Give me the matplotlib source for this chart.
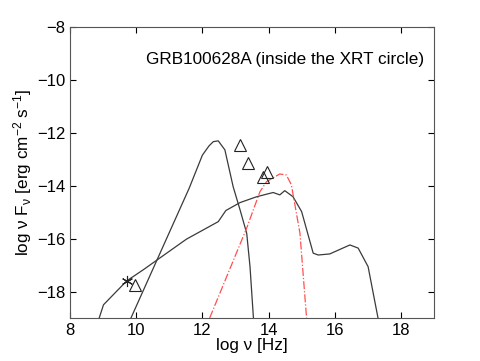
import numpy as np
import matplotlib
matplotlib.use("Agg")
import matplotlib.pyplot as plt

plt.rcParams['font.family'] = ['Liberation Sans', 'DejaVu Sans']
plt.rcParams['mathtext.default'] = 'regular'

# steep component (peaks near 10^12.4 Hz)
steep_x = [9.84, 11.6, 12.0, 12.2, 12.33, 12.48, 12.68, 12.93, 13.14, 13.34, 13.44, 13.54, 13.56]
steep_y = [-19.0, -14.1, -12.85, -12.5, -12.34, -12.31, -12.65, -14.04, -14.92, -15.8, -17.06, -18.94, -19.2]

# broad component
broad_x = [8.88, 9.01, 9.71, 10.21, 10.92, 11.52, 12.48, 12.71, 13.14, 13.64, 14.14,
           14.34, 14.49, 14.74, 15.0, 15.35, 15.5, 15.85, 16.46, 16.71, 17.01, 17.31]
broad_y = [-19.0, -18.5, -17.6, -17.18, -16.55, -16.02, -15.36, -14.94, -14.64, -14.42, -14.26,
           -14.35, -14.19, -14.42, -14.98, -16.55, -16.62, -16.58, -16.24, -16.36, -17.06, -19.0]

# red dash-dot component
red_x = [12.22, 13.34, 13.74, 13.94, 14.34, 14.54, 14.69, 14.95, 15.15]
red_y = [-19.0, -15.6, -14.23, -13.85, -13.56, -13.6, -13.97, -15.8, -19.0]

# data points
tri_x = [13.14, 13.39, 13.94, 13.82, 9.96]
tri_y = [-12.45, -13.13, -13.47, -13.68, -17.75]
star_x = [9.71]
star_y = [-17.6]

fig = plt.figure(figsize=(4.8, 3.61), dpi=100)
ax = fig.add_axes([0.146, 0.119, 0.758, 0.807])

line_col = '#3a3a3a'
ax.plot(steep_x, steep_y, color=line_col, lw=0.9)
ax.plot(broad_x, broad_y, color=line_col, lw=0.9)
ax.plot(red_x, red_y, color='#ff5050', lw=0.9, ls='-.')
ax.plot(tri_x, tri_y, ls='none', marker='^', ms=9, mfc='none', mec='#222222', mew=0.8)
ax.plot(star_x, star_y, ls='none', marker=(6, 2, 0), ms=8, mec='#222222', mew=0.8)

ax.set_xlim(8, 19)
ax.set_ylim(-19, -8)
ax.set_xticks(np.arange(8, 19, 2))
ax.set_yticks(np.arange(-18, -7, 2))
ax.tick_params(direction='in', top=True, right=True, length=4, labelsize=12, colors='black')
for s in ax.spines.values():
    s.set_color('#555555')
    s.set_linewidth(0.8)

ax.text(18.7, -9.22, 'GRB100628A (inside the XRT circle)', ha='right', va='center', fontsize=12.3)
ax.set_xlabel('log ν [Hz]', fontsize=12.3, labelpad=0)
ax.set_ylabel('log ν F$_ν$ [erg cm$^{-2}$ s$^{-1}$]', fontsize=12.3, labelpad=2)

fig.savefig('out.png', dpi=100)
